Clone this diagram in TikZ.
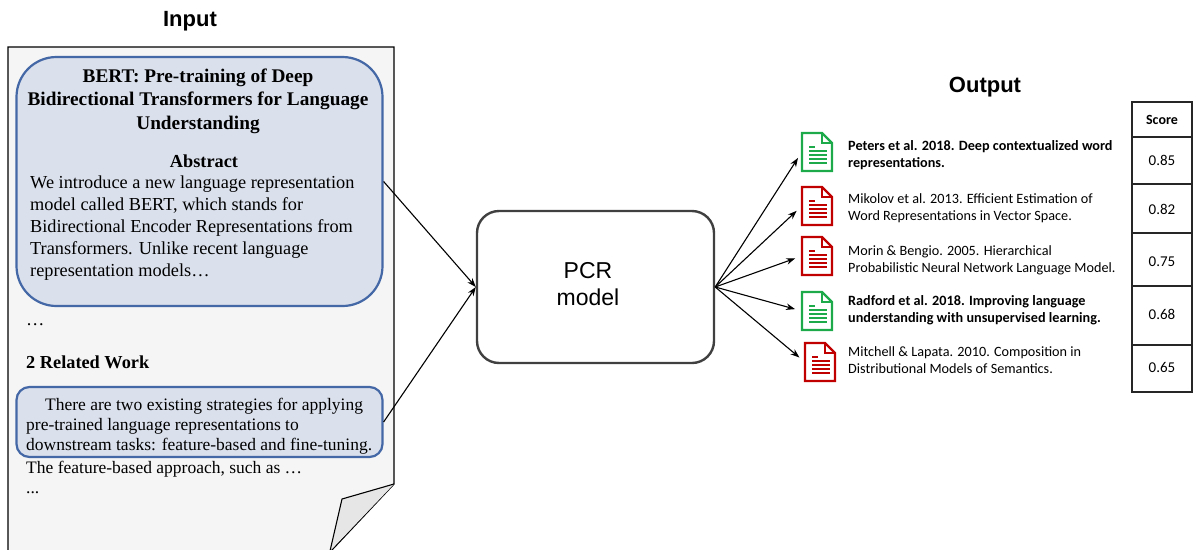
\documentclass[tikz,border=0pt]{standalone}
\usepackage{fontspec}
\setmainfont{Liberation Serif}
\newfontfamily\arialf{Liberation Sans}
\newfontfamily\calib{Carlito}
\usetikzlibrary{arrows.meta}
\definecolor{pagefill}{HTML}{F5F5F5}
\definecolor{foldfill}{HTML}{E6E6E6}
\definecolor{boxfill}{HTML}{DAE0EC}
\definecolor{boxline}{HTML}{4467A6}
\definecolor{pcrline}{HTML}{404040}
\definecolor{docgreen}{HTML}{1DAA4B}
\definecolor{docred}{HTML}{C00000}
\tikzset{
  arr/.style={-{Stealth[length=9pt,width=6.5pt]}, line width=1.1pt, black},
  paper/.style={font=\fontsize{18.3}{22}\selectfont, inner sep=0pt},
  papertitle/.style={font=\fontsize{19.3}{23.5}\selectfont\bfseries, inner sep=0pt, align=center},
  outtxt/.style={font=\calib\fontsize{14.2}{17}\selectfont, inner sep=0pt, align=left, anchor=base west},
  outbold/.style={outtxt, font=\calib\bfseries\fontsize{14.2}{17}\selectfont},
  scoretxt/.style={font=\calib\fontsize{15}{17}\selectfont, inner sep=0pt, anchor=base},
  iconbox/.style={minimum width=30pt, minimum height=38pt, inner sep=0pt, draw=none},
  pics/docicon/.style={code={
    \draw[#1, line width=2.4pt, line join=miter] (0,0) -- (20,0) -- (30,10) -- (30,38) -- (0,38) -- cycle;
    \draw[#1, line width=2pt, line join=miter] (20,0) -- (20,10) -- (30,10);
    \draw[#1, line width=1.4pt] (7,14) -- (13,14);
    \foreach \yy in {18,22,26,30} {\draw[#1, line width=1.4pt] (7,\yy) -- (25,\yy);}
  }}
}
\begin{document}
\begin{tikzpicture}[x=1pt,y=-1pt]
\useasboundingbox (0,0) rectangle (1193,549);
% headings
\node[font=\arialf\bfseries\fontsize{22}{24}\selectfont, anchor=base, inner sep=0pt] (inputlbl) at (190,26) {Input};
\node[font=\arialf\bfseries\fontsize{22}{24}\selectfont, anchor=base, inner sep=0pt] (outputlbl) at (985,92) {Output};
% page
\fill[pagefill] (8,47) -- (394,47) -- (394,484) -- (330,552) -- (8,552) -- cycle;
\draw[line width=1.3pt] (8,552) -- (8,47) -- (394,47) -- (394,484) -- (330,552);
\filldraw[fill=foldfill, line width=1.1pt, line join=miter] (394,484) -- (342,499) -- (330,551);
% BERT box
\node[draw=boxline, fill=boxfill, line width=2.2pt, rounded corners=40pt, minimum width=366pt, minimum height=249pt, inner sep=0pt] (bert) at (199.5,181.5) {};
\node[papertitle, anchor=base] (title) at (198,129) {BERT: Pre-training of Deep\\Bidirectional Transformers for Language\\Understanding};
\node[paper, font=\fontsize{18.3}{22}\selectfont\bfseries, anchor=base] (abstr) at (204,167) {Abstract};
\node[paper, anchor=base west, align=left] (abody) at (30,276) {We introduce a new language representation\\model called BERT, which stands for\\Bidirectional Encoder Representations from\\Transformers. Unlike recent language\\representation models\ldots};
\node[paper, anchor=base west] (dots1) at (26,325) {\ldots};
\node[paper, anchor=base west, font=\fontsize{18.3}{22}\selectfont\bfseries] (relhead) at (26,368) {2 Related Work};
% related box
\node[draw=boxline, fill=boxfill, line width=2.2pt, rounded corners=13pt, minimum width=366pt, minimum height=70pt, inner sep=0pt] (rel) at (199.5,422) {};
\node[paper, anchor=base west, align=left, font=\fontsize{17.5}{20}\selectfont] (relbody) at (26,450) {\hspace*{19pt}There are two existing strategies for applying\\pre-trained language representations to\\downstream tasks: feature-based and fine-tuning.};
\node[paper, anchor=base west, font=\fontsize{17.5}{20}\selectfont] (feat) at (26,473) {The feature-based approach, such as \ldots};
\node[paper, anchor=base west, font=\fontsize{17.5}{20}\selectfont] (dots2) at (26,493) {...};
% PCR model
\node[draw=pcrline, line width=2.4pt, rounded corners=22pt, minimum width=237pt, minimum height=152pt, inner sep=0pt] (pcr) at (595.5,287) {};
\node[font=\arialf\fontsize{23}{27}\selectfont, align=center, inner sep=0pt, anchor=base] (pcrtxt) at (588,305) {PCR\\model};
\draw[arr] (bert.east) -- (pcr.west);
\draw[arr] (rel.east) -- (pcr.west);
% icons
\pic at (802,133) {docicon=docgreen};
\node[iconbox] (ic1) at (817,152) {};
\pic at (802,187) {docicon=docred};
\node[iconbox] (ic2) at (817,206) {};
\pic at (802,237) {docicon=docred};
\node[iconbox] (ic3) at (817,256) {};
\pic at (802,292) {docicon=docgreen};
\node[iconbox] (ic4) at (817,311) {};
\pic at (805,343) {docicon=docred};
\node[iconbox] (ic5) at (820,362) {};
\foreach \i in {1,...,5} {\draw[arr, shorten >=7pt] (pcr.east) -- (ic\i.west);}
% output texts
\node[outbold] (t1) at (848,167) {Peters et al. 2018. Deep contextualized word\\representations.};
\node[outtxt] (t2) at (848,220) {Mikolov et al. 2013. Efficient Estimation of\\Word Representations in Vector Space.};
\node[outtxt] (t3) at (848,272) {Morin \& Bengio. 2005. Hierarchical\\Probabilistic Neural Network Language Model.};
\node[outbold] (t4) at (848,322) {Radford et al. 2018. Improving language\\understanding with unsupervised learning.};
\node[outtxt] (t5) at (848,373) {Mitchell \& Lapata. 2010. Composition in\\Distributional Models of Semantics.};
% score table
\draw[line width=1.4pt, black!85] (1132,102) rectangle (1192,392);
\foreach \yy in {137,184,233,286,345} {\draw[line width=1.4pt, black!85] (1132,\yy) -- (1192,\yy);}
\node[scoretxt, font=\calib\bfseries\fontsize{14}{17}\selectfont] (sh) at (1162,124.5) {Score};
\node[scoretxt] (s1) at (1162,165.5) {0.85};
\node[scoretxt] (s2) at (1162,214.5) {0.82};
\node[scoretxt] (s3) at (1162,266) {0.75};
\node[scoretxt] (s4) at (1162,319.5) {0.68};
\node[scoretxt] (s5) at (1162,372) {0.65};
\end{tikzpicture}
\end{document}
